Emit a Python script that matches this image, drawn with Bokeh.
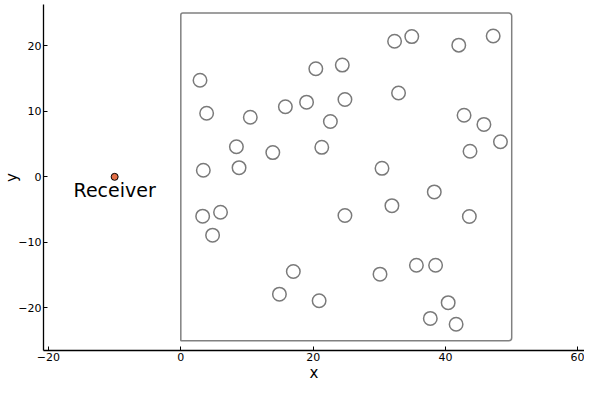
from bokeh.plotting import figure
from bokeh.models import Range1d, FixedTicker
from bokeh.embed import file_html
from bokeh.resources import INLINE
from bokeh.core.properties import value

# Source positions (scatterers) inside the room
source_x = [2.9, 3.9, 10.5, 8.4, 8.8, 3.4, 13.9, 15.8, 19.0, 20.4,
            24.4, 24.8, 22.6, 21.3, 32.3, 34.9, 42.0, 47.2, 32.9, 42.8,
            45.8, 48.3, 43.7, 30.4, 38.3, 31.9, 43.6, 24.8, 3.3, 6.0,
            4.8, 17.0, 14.9, 20.9, 30.1, 35.6, 38.5, 40.4, 37.7, 41.6]
source_y = [14.75, 9.7, 9.1, 4.6, 1.4, 1.0, 3.7, 10.7, 11.4, 16.5,
            17.05, 11.8, 8.45, 4.5, 20.7, 21.4, 20.1, 21.5, 12.8, 9.4,
            8.0, 5.35, 3.9, 1.3, -2.3, -4.4, -6.05, -5.9, -6.0, -5.4,
            -8.9, -14.45, -17.9, -18.9, -14.85, -13.5, -13.5, -19.2, -21.6, -22.5]

# Receiver
receiver_x = [-10]
receiver_y = [0]
receiver_label = ["Receiver"]

# Room boundary
room_left = [0]
room_right = [50]
room_bottom = [-25]
room_top = [25]

x_ticks = [-20, 0, 20, 40, 60]
y_ticks = [-20, -10, 0, 10, 20]

FONT = "DejaVu Sans"

p = figure(width=584, height=384, output_backend="svg", toolbar_location=None,
           x_range=Range1d(-20.75, 61.0), y_range=Range1d(-26.5, 26.3))
p.min_border_left = 0
p.min_border_right = 0
p.min_border_top = 4
p.min_border_bottom = 0
p.grid.visible = False
p.outline_line_color = None
p.background_fill_color = "white"
p.border_fill_color = "white"

p.quad(left=room_left, right=room_right, bottom=room_bottom, top=room_top,
       fill_color=None, line_color="#808080", line_width=1.5,
       border_radius=(2, 3, 3, 0))

p.scatter(source_x, source_y, size=13.5, fill_color=None,
          line_color="#7a7a7a", line_width=1.5)

p.scatter(receiver_x, receiver_y, size=7, fill_color="#E36F47",
          line_color="black", line_width=1)

p.text(receiver_x, receiver_y, text=receiver_label, text_align="center",
       text_baseline="middle", y_offset=13, text_font=value(FONT),
       text_font_size="19px", text_color="black")

for ax, ticks, lab, lab_std, off in ((p.xaxis[0], x_ticks, "x", 0, 2),
                                     (p.yaxis[0], y_ticks, "y", -6, 2)):
    ax.ticker = FixedTicker(ticks=ticks)
    ax.major_tick_in = 4
    ax.major_tick_out = 0
    ax.minor_tick_line_color = None
    ax.axis_line_width = 1.3
    ax.axis_line_color = "black"
    ax.major_tick_line_color = "black"
    ax.major_label_text_font = FONT
    ax.major_label_text_font_size = "11px"
    ax.major_label_text_color = "black"
    ax.major_label_standoff = off
    ax.axis_label = lab
    ax.axis_label_text_font = FONT
    ax.axis_label_text_font_size = "15px"
    ax.axis_label_text_font_style = "normal"
    ax.axis_label_text_color = "black"
    ax.axis_label_standoff = lab_std

open("out.html", "w").write(file_html(p, INLINE))
